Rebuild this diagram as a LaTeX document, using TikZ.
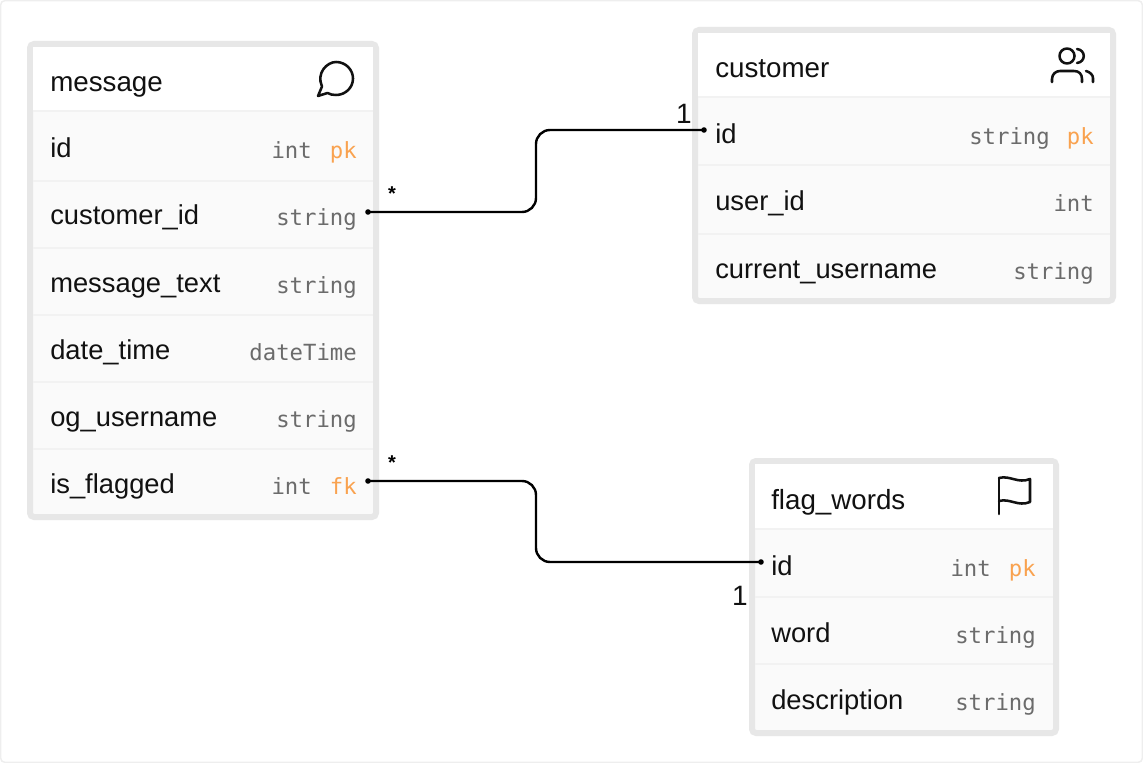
\documentclass[tikz,border=0pt]{standalone}
\usepackage{fontspec}
\setmainfont{Liberation Sans}
\newfontfamily\typefont{DejaVu Sans Mono}
\definecolor{framec}{HTML}{EEEEEE}
\definecolor{boxc}{HTML}{E7E7E7}
\definecolor{rowc}{HTML}{FAFAFA}
\definecolor{sepc}{HTML}{F2F2F2}
\definecolor{typec}{HTML}{6B6B6B}
\definecolor{keyc}{HTML}{F9A24F}
\definecolor{inkc}{HTML}{111111}
\tikzset{
  x=0.75pt,y=-0.75pt,
  frame/.style={draw=framec,line width=1.1pt,fill=white,rounded corners=3pt},
  entity/.style={draw=boxc,line width=4.5pt,fill=rowc,rounded corners=3pt},
  headband/.style={fill=white,draw=none},
  sep/.style={draw=sepc,line width=2.2pt},
  title/.style={anchor=base west,inner sep=0pt,text=inkc,font=\fontsize{20.8}{24}\selectfont},
  field/.style={anchor=base west,inner sep=0pt,text=inkc,font=\fontsize{20.5}{24}\selectfont},
  dtype/.style={anchor=base east,inner sep=0pt,text=typec,font=\typefont\fontsize{16.7}{20}\selectfont},
  keytag/.style={anchor=base east,inner sep=0pt,text=keyc,font=\typefont\fontsize{16.7}{20}\selectfont},
  rel/.style={draw=black,line width=1.8pt,rounded corners=10.5pt},
  enddot/.style={circle,fill=black,inner sep=0pt,minimum size=4.2pt},
  card/.style={inner sep=0pt,text=inkc,font=\fontsize{21}{24}\selectfont},
  star/.style={inner sep=0pt,text=black,font=\bfseries\fontsize{15}{18}\selectfont},
  icon/.style={draw=inkc,line width=1.9pt,line cap=round,line join=round},
}
\begin{document}
\begin{tikzpicture}
\useasboundingbox (0,0) rectangle (1143,763);
\draw[frame] (0.7,0.7) rectangle (1142.3,762.3);

% message
\draw[entity] (30,44) rectangle (376,517);
\fill[headband] (33,47) rectangle (373,110);
\foreach \y in {111,181,248,315,382,449} \draw[sep] (33,\y) -- (373,\y);
\node[title] (mT) at (50,92) {message};
\node[field] (m1) at (50,158) {id};
\node[field] (m2) at (50,225) {customer\_id};
\node[field] (m3) at (50,292) {message\_text};
\node[field] (m4) at (50,359) {date\_time};
\node[field] (m5) at (50,426) {og\_username};
\node[field] (m6) at (50,493) {is\_flagged};
\node[keytag] (m1k) at (357,159) {pk};
\node[dtype] (m1t) at (312,159) {int};
\node[dtype] (m2t) at (357,226) {string};
\node[dtype] (m3t) at (357,293) {string};
\node[dtype] (m4t) at (357,360) {dateTime};
\node[dtype] (m5t) at (357,427) {string};
\node[keytag] (m6k) at (357,494) {fk};
\node[dtype] (m6t) at (312,494) {int};
\draw[icon] (318,96) -- (322,86.5) .. controls (316,73) and (327,62) .. (336,62) .. controls (346,62) and (353,70) .. (353,78.5) .. controls (353,88) and (345,95) .. (336,95) .. controls (333,95) and (330,94.5) .. (327.5,93) -- cycle;

% customer
\draw[entity] (695,30) rectangle (1113,301);
\fill[headband] (698,33) rectangle (1110,96);
\foreach \y in {97,165,234} \draw[sep] (698,\y) -- (1110,\y);
\node[title] (cT) at (715,78) {customer};
\node[field] (c1) at (715,144) {id};
\node[field] (c2) at (715,211) {user\_id};
\node[field] (c3) at (715,278) {current\_username};
\node[keytag] (c1k) at (1094,145) {pk};
\node[dtype] (c1t) at (1050,145) {string};
\node[dtype] (c2t) at (1094,212) {int};
\node[dtype] (c3t) at (1094,279) {string};
\draw[icon] (1067,56) circle (7.5);
\draw[icon] (1052,82) -- (1052,79) .. controls (1052,74) and (1056,71) .. (1060,71) -- (1074,71) .. controls (1079,71) and (1082,74) .. (1082,79) -- (1082,82);
\draw[icon] (1077,49) .. controls (1086,50) and (1086,62) .. (1077,63);
\draw[icon] (1093,82) -- (1093,78) .. controls (1093,75) and (1090,72) .. (1086,71);

% flag_words
\draw[entity] (752,461) rectangle (1056,733);
\fill[headband] (755,464) rectangle (1053,528);
\foreach \y in {529,597,664} \draw[sep] (755,\y) -- (1053,\y);
\node[title] (fT) at (771,509) {flag\_words};
\node[field] (f1) at (771,575) {id};
\node[field] (f2) at (771,642) {word};
\node[field] (f3) at (771,709) {description};
\node[keytag] (f1k) at (1036,576) {pk};
\node[dtype] (f1t) at (991,576) {int};
\node[dtype] (f2t) at (1036,643) {string};
\node[dtype] (f3t) at (1036,710) {string};
\draw[icon] (999,514) -- (999,478);
\draw[icon] (999,478) .. controls (1010,475) and (1018,484) .. (1030,479) -- (1030,502) .. controls (1018,507) and (1010,498) .. (999,501);

% connectors
\node[enddot] (a1) at (368,212) {};
\node[enddot] (b1) at (704,130) {};
\node[enddot] (a2) at (368,481) {};
\node[enddot] (b2) at (761,562) {};
\coordinate (j1) at (536,130);
\coordinate (j2) at (536,562);
\draw[rel] (a1.center) -| (j1) -- (b1.center);
\draw[rel] (a2.center) -| (j2) -- (b2.center);
\node[star] (s1) at (392,194) {*};
\node[star] (s2) at (392,463) {*};
\node[card] (n1) at (684,114) {1};
\node[card] (n2) at (740,596) {1};
\end{tikzpicture}
\end{document}
